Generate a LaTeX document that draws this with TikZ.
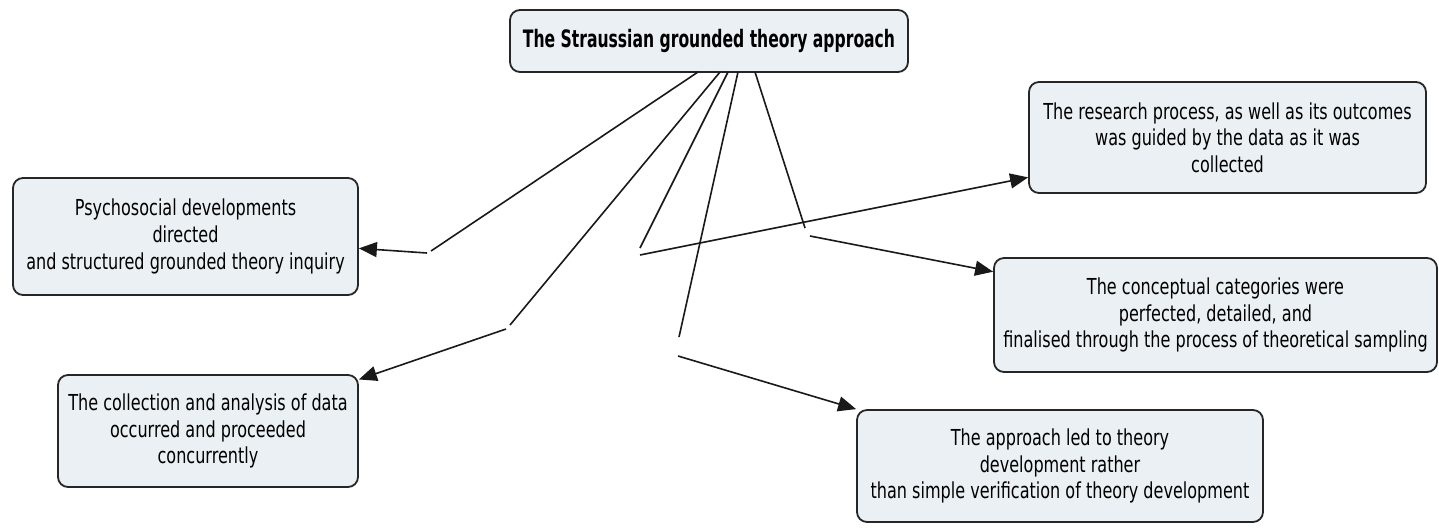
\documentclass[tikz,border=0pt]{standalone}
\usepackage{fontspec}
\setmainfont{DejaVu Sans}[FakeStretch=0.73]
\newfontfamily\titlefont{DejaVu Sans}[FakeStretch=0.65]
\usepackage{xcolor}
\usetikzlibrary{arrows.meta}

\definecolor{boxfill}{HTML}{EAF0F3}
\definecolor{boxline}{HTML}{262626}
\tikzset{
    concept/.style={draw=boxline, fill=boxfill, line width=0.9pt, rounded corners=5pt,
        align=center, inner sep=0pt, font=\fontsize{11}{13.3}\selectfont},
    link/.style={line width=0.8pt, draw=black!90},
    linkarrow/.style={link, -{Triangle[length=9pt,width=7.5pt]}}
}

\begin{document}
\begin{tikzpicture}[x=0.5pt, y=-0.5pt]
    \useasboundingbox (0,0) rectangle (1439,527);

    % Concepts
    \node[concept, minimum width=199pt, minimum height=31pt,
        font=\titlefont\bfseries\fontsize{12}{15}\selectfont] (top) at (709,41) {The Straussian grounded theory approach};
    \node[concept, minimum width=172.5pt, minimum height=58.5pt] (psych) at (185.5,236.5)
        {Psychosocial developments\\ directed\\ and structured grounded theory inquiry};
    \node[concept, minimum width=150pt, minimum height=56pt] (coll) at (208,431)
        {The collection and analysis of data\\ occurred and proceeded\\ concurrently};
    \node[concept, minimum width=198.5pt, minimum height=55.5pt] (research) at (1227.5,137.5)
        {The research process, as well as its outcomes\\ was guided by the data as it was\\ collected};
    \node[concept, minimum width=221.5pt, minimum height=57pt] (categ) at (1215.5,315)
        {The conceptual categories were\\ perfected, detailed, and\\ finalised through the process of theoretical sampling};
    \node[concept, minimum width=203pt, minimum height=56pt] (appr) at (1060,466)
        {The approach led to theory\\ development rather\\ than simple verification of theory development};

    % Empty linking phrases
    \coordinate (s1) at (698,72);  \coordinate (a1) at (431,251); \coordinate (b1) at (427,253);
    \coordinate (s2) at (720,72);  \coordinate (a2) at (510,325); \coordinate (b2) at (506,329);
    \coordinate (s3) at (728,72);  \coordinate (a3) at (640,248); \coordinate (b3) at (640,255);
    \coordinate (s4) at (738,72);  \coordinate (a4) at (679,337); \coordinate (b4) at (678,356);
    \coordinate (s5) at (755,72);  \coordinate (a5) at (805,228); \coordinate (b5) at (810,236);

    % Links
    \draw [link] (s1) -- (a1);
    \draw [linkarrow] (b1) -- (psych);
    \draw [link] (s2) -- (a2);
    \draw [linkarrow] (b2) -- (coll);
    \draw [link] (s3) -- (a3);
    \draw [linkarrow] (b3) -- (research);
    \draw [link] (s4) -- (a4);
    \draw [linkarrow] (b4) -- (appr.north west);
    \draw [link] (s5) -- (a5);
    \draw [linkarrow] (b5) -- (categ);
\end{tikzpicture}
\end{document}
